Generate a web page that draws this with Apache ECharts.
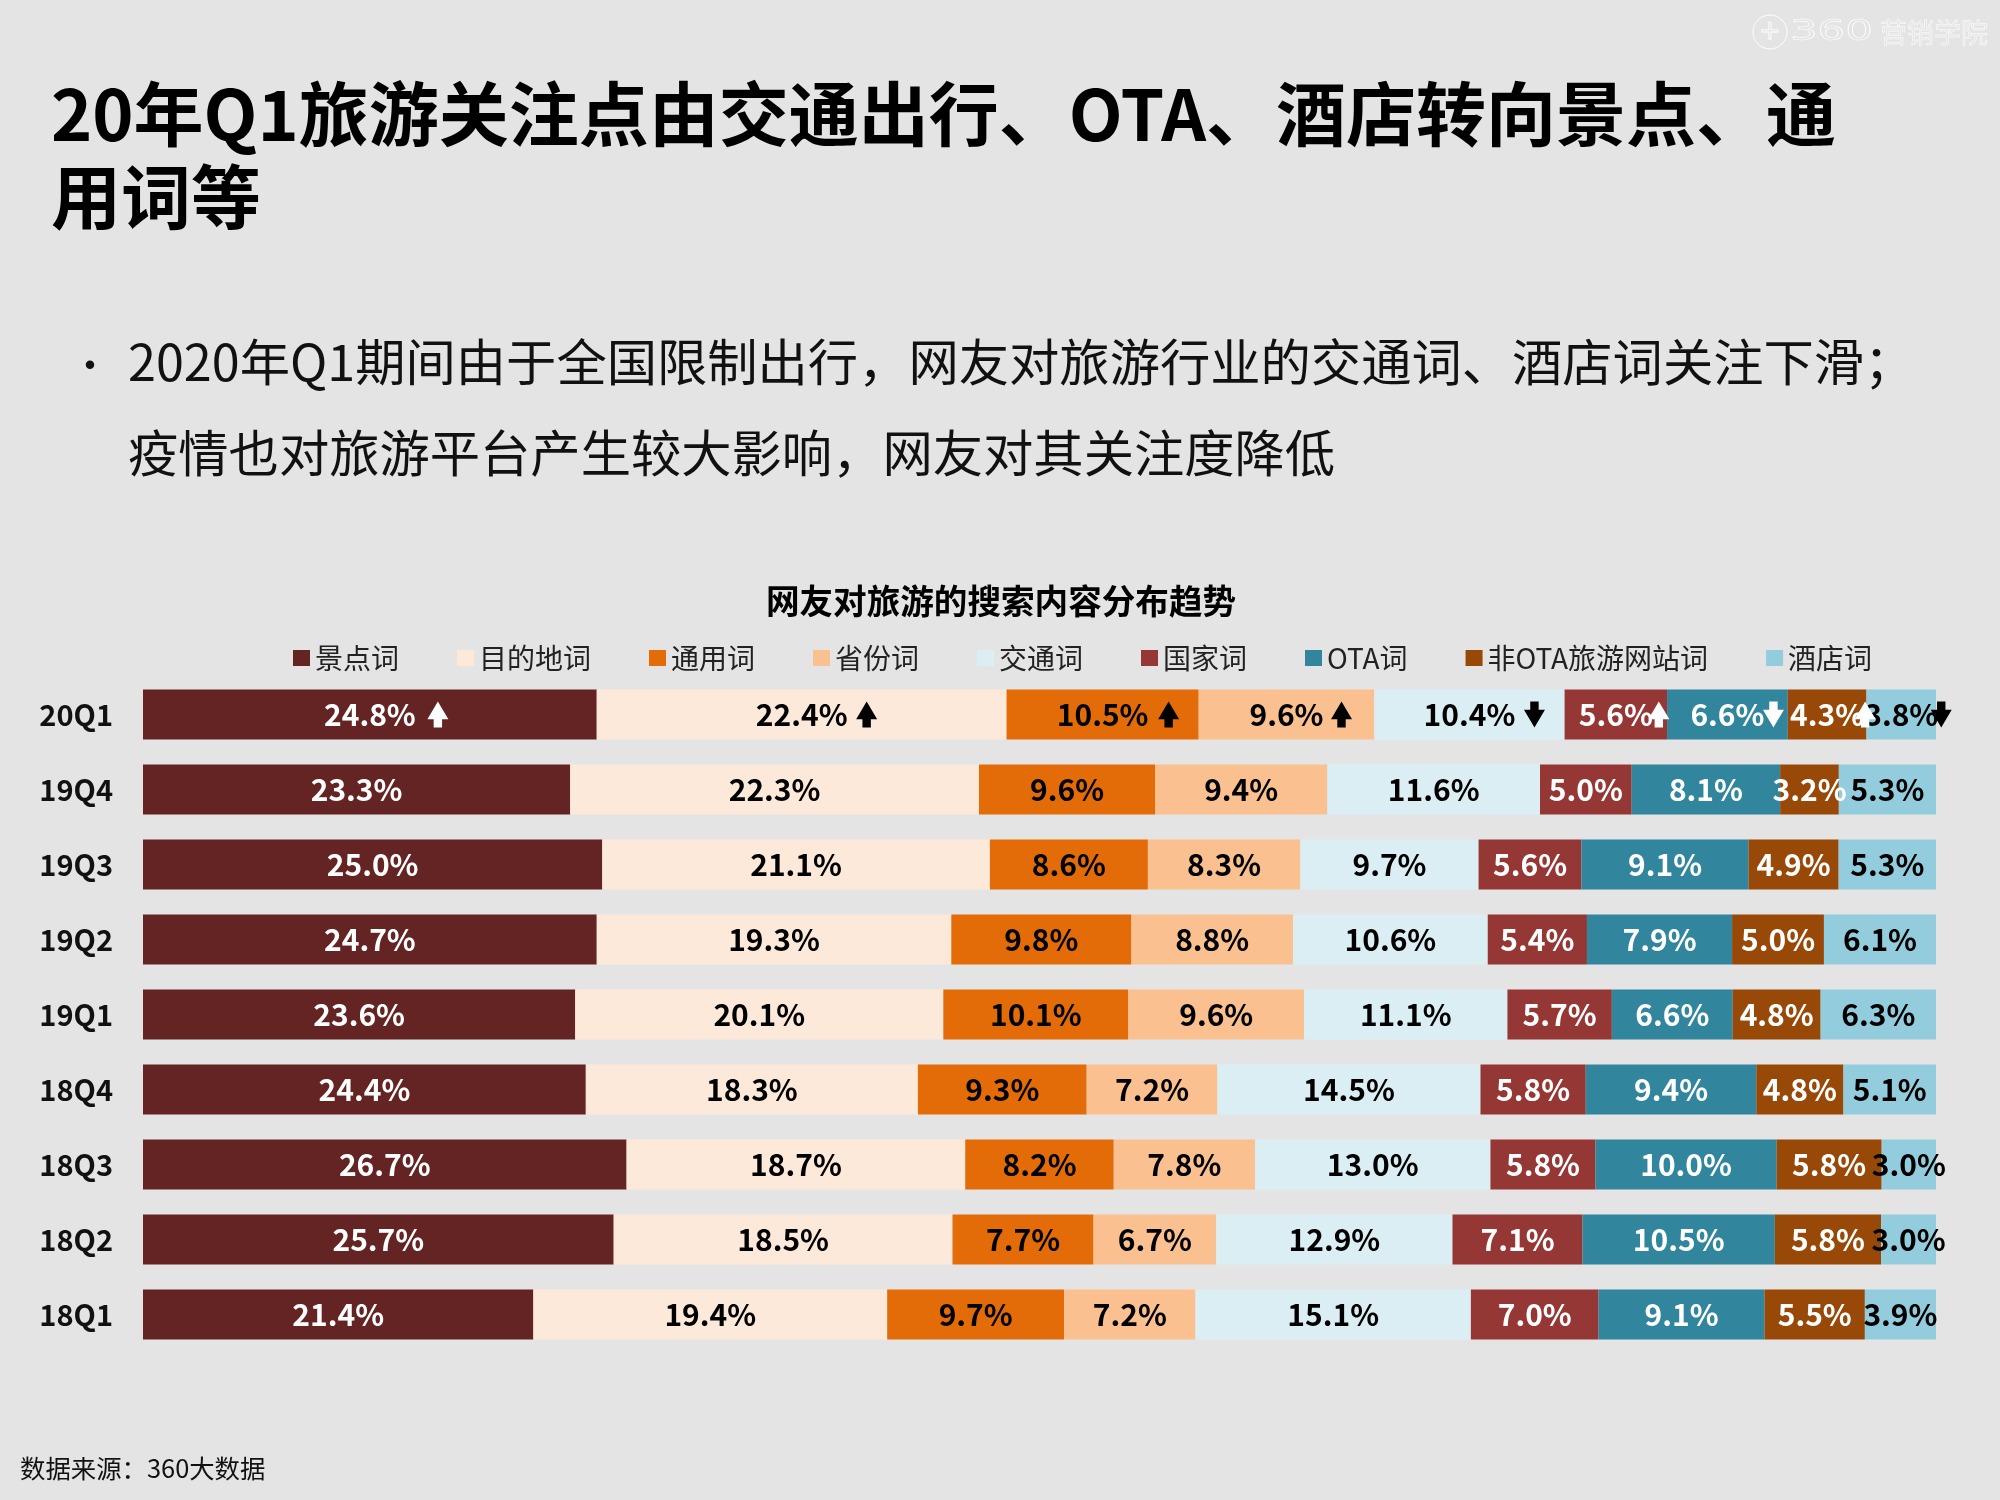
<!DOCTYPE html>
<html>
<head>
<meta charset="utf-8">
<title>网友对旅游的搜索内容分布趋势</title>
<script src="https://cdn.jsdelivr.net/npm/echarts@6/dist/echarts.min.js"></script>
<style>
  html, body { margin: 0; padding: 0; background: #e4e4e4; }
  #chart { width: 2000px; height: 1500px; }
</style>
</head>
<body>
<div id="chart"></div>
<script>
var quarters = ['20Q1', '19Q4', '19Q3', '19Q2', '19Q1', '18Q4', '18Q3', '18Q2', '18Q1'];
var seriesNames = ['景点词', '目的地词', '通用词', '省份词', '交通词', '国家词', 'OTA词', '非OTA旅游网站词', '酒店词'];

var jingdian = [24.8, 23.3, 25.0, 24.7, 23.6, 24.4, 26.7, 25.7, 21.4];
var mudidi = [22.4, 22.3, 21.1, 19.3, 20.1, 18.3, 18.7, 18.5, 19.4];
var tongyong = [10.5, 9.6, 8.6, 9.8, 10.1, 9.3, 8.2, 7.7, 9.7];
var shengfen = [9.6, 9.4, 8.3, 8.8, 9.6, 7.2, 7.8, 6.7, 7.2];
var jiaotong = [10.4, 11.6, 9.7, 10.6, 11.1, 14.5, 13.0, 12.9, 15.1];
var guojia = [5.6, 5.0, 5.6, 5.4, 5.7, 5.8, 5.8, 7.1, 7.0];
var ota = [6.6, 8.1, 9.1, 7.9, 6.6, 9.4, 10.0, 10.5, 9.1];
var feiOta = [4.3, 3.2, 4.9, 5.0, 4.8, 4.8, 5.8, 5.8, 5.5];
var jiudian = [3.8, 5.3, 5.3, 6.1, 6.3, 5.1, 3.0, 3.0, 3.9];

// trend marks on the 20Q1 row, one per series
var trend20Q1 = ['up', 'up', 'up', 'up', 'down', 'up', 'down', 'up', 'down'];

var table = [jingdian, mudidi, tongyong, shengfen, jiaotong, guojia, ota, feiOta, jiudian];
var colors = ['#632423', '#fde9d9', '#e36c09', '#fac090', '#dbeef4', '#953735', '#31859c', '#984807', '#93cddd'];
var labelColors = ['#fff', '#000', '#000', '#000', '#000', '#fff', '#fff', '#fff', '#000'];
var arrowOffsets = [68, 65, 66, 55, 65, 43, 46, 38, 40];
var cjk = '"Noto Sans CJK SC", sans-serif';

// the source chart is 100% stacked: the rows sum to about 98, so scale them
var rowSums = quarters.map(function (q, i) {
  return table.reduce(function (s, col) { return s + col[i]; }, 0);
});

var barSeries = table.map(function (col, k) {
  return {
    name: seriesNames[k],
    type: 'bar',
    stack: 'all',
    barWidth: 50,
    itemStyle: { color: colors[k] },
    label: {
      show: true,
      position: 'inside',
      color: labelColors[k],
      fontFamily: cjk,
      fontWeight: 'bold',
      fontSize: 30,
      overflow: 'none',
      formatter: function (p) { return col[p.dataIndex].toFixed(1) + '%'; }
    },
    labelLayout: { hideOverlap: false },
    data: col.map(function (v, i) { return v / rowSums[i] * 100; })
  };
});

// arrows sit beside the value text on the 20Q1 row
var running = 0;
var arrowData = table.map(function (col, k) {
  var share = col[0] / rowSums[0] * 100;
  var item = {
    value: [running + share / 2, quarters[0]],
    symbolRotate: trend20Q1[k] === 'up' ? 0 : 180,
    symbolOffset: [arrowOffsets[k], 0],
    itemStyle: { color: labelColors[k], opacity: 1 }
  };
  running += share;
  return item;
});

var chart = echarts.init(document.getElementById('chart'));
chart.setOption({
  animation: false,
  backgroundColor: '#e4e4e4',
  textStyle: { fontFamily: cjk },
  title: [
    {
      text: '20年Q1旅游关注点由交通出行、OTA、酒店转向景点、通\n用词等',
      left: 46, top: 68,
      textStyle: { fontFamily: cjk, fontSize: 70, fontWeight: 'bold', color: '#000', lineHeight: 83 }
    },
    {
      text: '2020年Q1期间由于全国限制出行，网友对旅游行业的交通词、酒店词关注下滑；\n疫情也对旅游平台产生较大影响，网友对其关注度降低',
      left: 123, top: 311,
      textStyle: { fontFamily: cjk, fontSize: 50.3, fontWeight: 'normal', color: '#111', lineHeight: 91 }
    },
    {
      text: '•',
      left: 65, top: 340,
      textStyle: { fontFamily: cjk, fontSize: 40, fontWeight: 'normal', color: '#111' }
    },
    {
      text: '网友对旅游的搜索内容分布趋势',
      left: 996, textAlign: 'center', top: 579,
      textStyle: { fontFamily: cjk, fontSize: 33.6, fontWeight: 'bold', color: '#000' }
    },
    {
      text: '数据来源：360大数据',
      left: 15, top: 1451,
      textStyle: { fontFamily: cjk, fontSize: 25.4, fontWeight: 'normal', color: '#111' }
    }
  ],
  legend: {
    left: 288, top: 639,
    data: seriesNames,
    icon: 'rect',
    itemWidth: 17, itemHeight: 16, itemGap: 58,
    textStyle: { fontFamily: cjk, fontSize: 28, color: '#222' },
    selectedMode: false
  },
  grid: { left: 143, width: 1793, top: 677, height: 675 },
  xAxis: { type: 'value', min: 0, max: 100, show: false },
  yAxis: {
    type: 'category',
    inverse: true,
    data: quarters,
    axisLine: { show: false },
    axisTick: { show: false },
    axisLabel: { color: '#111', fontFamily: cjk, fontWeight: 'bold', fontSize: 29, margin: 30 }
  },
  series: barSeries.concat([{
    name: '趋势',
    type: 'scatter',
    z: 10,
    silent: true,
    symbol: 'path://M5 0L10 15L7 15L7 22L3 22L3 15L0 15Z',
    symbolSize: [21, 26],
    data: arrowData
  }]),
  graphic: [
    { type: 'circle', shape: { cx: 1770, cy: 32, r: 17 }, style: { fill: 'none', stroke: '#fff', lineWidth: 1 } },
    { type: 'text', x: 1770, y: 32, style: { text: '+', fill: 'none', stroke: '#fff', lineWidth: 0.8, font: '26px "DejaVu Sans"', align: 'center', verticalAlign: 'middle' } },
    { type: 'text', x: 1790, y: 33, scaleX: 1.55, style: { text: '360', fill: 'none', stroke: '#fff', lineWidth: 0.6, font: '28px "DejaVu Sans"', verticalAlign: 'middle' } },
    { type: 'text', x: 1880, y: 33, style: { text: '营销学院', fill: 'none', stroke: '#fff', lineWidth: 0.5, font: '27px "Noto Sans CJK SC"', verticalAlign: 'middle' } }
  ]
});
</script>
</body>
</html>
